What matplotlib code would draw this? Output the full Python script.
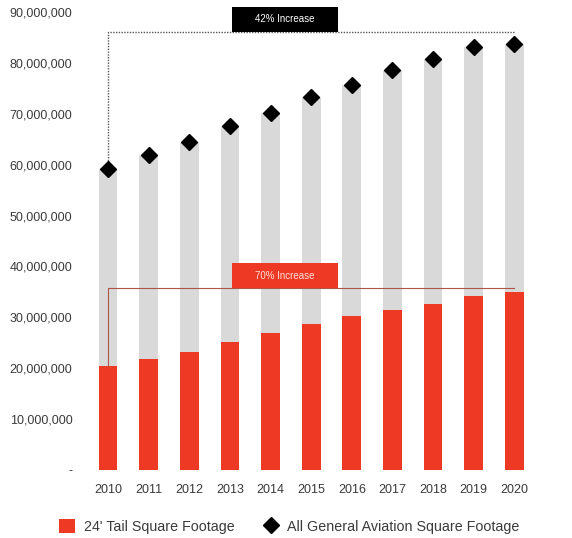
import matplotlib.pyplot as plt
from matplotlib.patches import Rectangle, Patch
from matplotlib.lines import Line2D
from matplotlib.ticker import FuncFormatter

years = ['2010', '2011', '2012', '2013', '2014', '2015', '2016', '2017', '2018', '2019', '2020']
tail_24 = [20.5e6, 21.9e6, 23.1e6, 25.1e6, 27.0e6, 28.7e6, 30.3e6, 31.5e6, 32.7e6, 34.1e6, 35.0e6]
all_ga = [59.2e6, 61.9e6, 64.4e6, 67.5e6, 70.1e6, 73.2e6, 75.7e6, 78.7e6, 80.7e6, 83.1e6, 83.8e6]

plt.rcParams['font.family'] = ['Liberation Sans', 'DejaVu Sans']

red = '#ee3a24'
grey = '#d9d9d9'
txt = '#3a3a3a'

fig = plt.figure(figsize=(5.72, 5.38), dpi=100)
ax = fig.add_axes([0.146, 0.1264, 0.796, 0.8513])

x = list(range(len(years)))
width = 0.46
ax.bar(x, all_ga, width, color=grey, zorder=1)
ax.bar(x, tail_24, width, color=red, zorder=2)
ax.plot(x, all_ga, linestyle='none', marker='D', markersize=8, color='black', zorder=4)

# 42% bracket
top_y = 86.1e6
ax.plot([0, 0, 10], [all_ga[0], top_y, top_y], color='#555555', linestyle=(0, (1, 1)),
        linewidth=1.0, zorder=3, clip_on=False)
ax.add_patch(Rectangle((3.05, top_y), 2.6, 4.9e6, facecolor='black', edgecolor='none',
                       zorder=5, clip_on=False))
ax.text(4.35, top_y + 2.45e6, '42% Increase', color='white', fontsize=7,
        ha='center', va='center', zorder=6)

# 70% bracket
red_y = 35.8e6
ax.plot([0, 0, 10], [tail_24[0], red_y, red_y], color='#b0544a', linewidth=0.8, zorder=3)
ax.add_patch(Rectangle((3.05, red_y), 2.6, 4.8e6, facecolor=red, edgecolor='none', zorder=5))
ax.text(4.35, red_y + 2.4e6, '70% Increase', color='#ffe0da', fontsize=7,
        ha='center', va='center', zorder=6)

ax.set_xlim(-0.6, 10.6)
ax.set_ylim(0, 90e6)
ax.set_xticks(x)
ax.set_xticklabels(years)
ax.set_yticks([i * 10e6 for i in range(10)])
ax.yaxis.set_major_formatter(FuncFormatter(lambda v, p: '-' if v == 0 else f'{int(v):,}'))
ax.tick_params(axis='both', length=0, labelsize=9, colors=txt)
ax.tick_params(axis='x', pad=10)
ax.tick_params(axis='y', pad=8)
for s in ax.spines.values():
    s.set_visible(False)

handles = [Patch(facecolor=red, edgecolor='none'),
           Line2D([], [], linestyle='none', marker='D', markersize=8, color='black')]
fig.legend(handles, ["24' Tail Square Footage", 'All General Aviation Square Footage'],
           loc='center', bbox_to_anchor=(0.506, 0.022), ncol=2, frameon=False,
           fontsize=10.3, handlelength=1.1, handleheight=1.1, columnspacing=2.0,
           handletextpad=0.6, labelcolor=txt)

fig.savefig('out.png', dpi=100, facecolor='white')
